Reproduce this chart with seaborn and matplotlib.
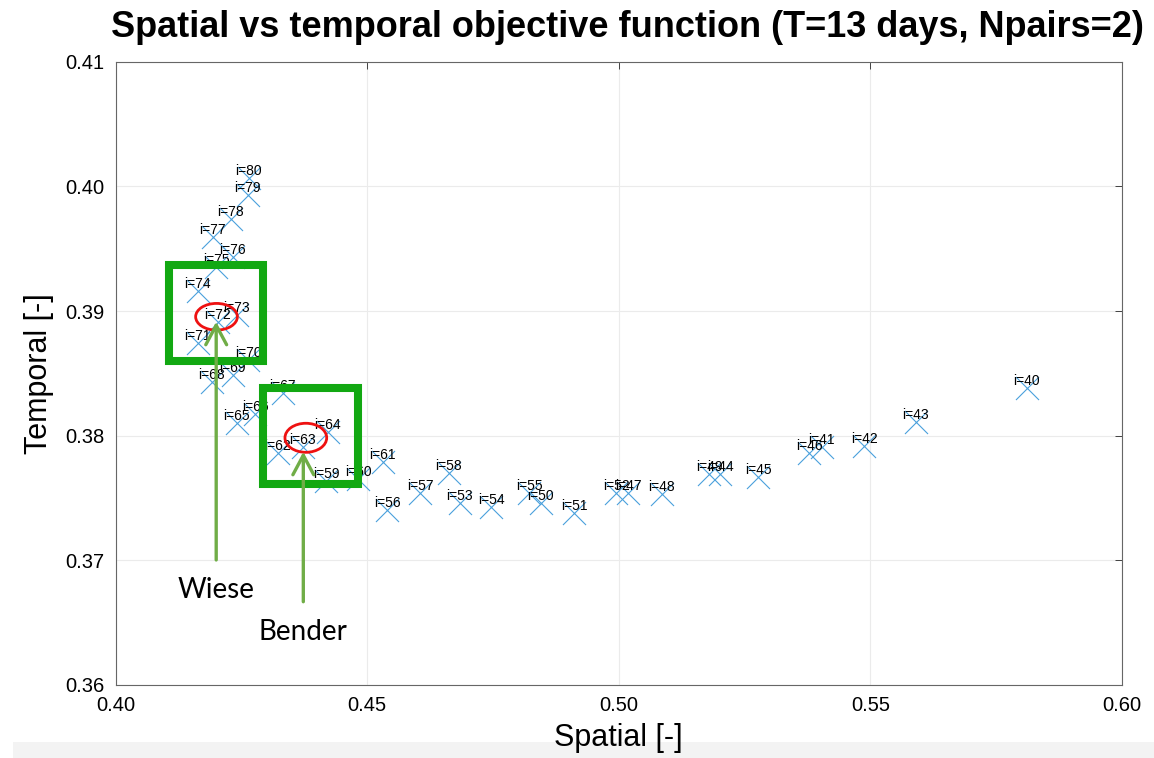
"""Spatial vs temporal objective function scatter, with hand-drawn style call-outs."""

import numpy as np
import pandas as pd
import matplotlib
matplotlib.use('Agg')
import matplotlib.pyplot as plt
from matplotlib.patches import Rectangle, Ellipse
import seaborn as sns

# iteration number of each point
iterations = [40, 41, 42, 43, 44, 45, 46, 47, 48, 49,
              50, 51, 52, 53, 54, 55, 56, 57, 58, 59,
              60, 61, 62, 63, 64, 65, 66, 67, 68, 69,
              70, 71, 72, 73, 74, 75, 76, 77, 78, 79, 80]

# spatial objective (x)
spatial = [0.5811, 0.5403, 0.5488, 0.5590, 0.5202, 0.5277, 0.5378, 0.5019, 0.5085, 0.5180,
           0.4845, 0.4911, 0.4995, 0.4684, 0.4747, 0.4822, 0.4540, 0.4606, 0.4662, 0.4419,
           0.4482, 0.4531, 0.4322, 0.4372, 0.4422, 0.4241, 0.4278, 0.4332, 0.4191, 0.4233,
           0.4264, 0.4163, 0.4203, 0.4241, 0.4163, 0.4200, 0.4233, 0.4193, 0.4229, 0.4263, 0.4265]

# temporal objective (y)
temporal = [0.3838, 0.3791, 0.3792, 0.3811, 0.3769, 0.3767, 0.3786, 0.3754, 0.3753, 0.3769,
            0.3746, 0.3738, 0.3754, 0.3746, 0.3743, 0.3754, 0.3740, 0.3754, 0.3770, 0.3764,
            0.3765, 0.3779, 0.3786, 0.3791, 0.3803, 0.3810, 0.3817, 0.3834, 0.3843, 0.3849,
            0.3861, 0.3874, 0.3891, 0.3897, 0.3916, 0.3935, 0.3943, 0.3959, 0.3974, 0.3993, 0.4007]

x_ticks = [0.40, 0.45, 0.50, 0.55, 0.60]
y_ticks = [0.36, 0.37, 0.38, 0.39, 0.40, 0.41]

df = pd.DataFrame({'i': iterations, 'spatial': spatial, 'temporal': temporal})

sns.set_theme(style='whitegrid')
plt.rcParams['font.family'] = ['Liberation Sans', 'DejaVu Sans']
plt.rcParams['text.color'] = 'black'
plt.rcParams['axes.labelcolor'] = 'black'
plt.rcParams['xtick.color'] = 'black'
plt.rcParams['ytick.color'] = 'black'

W, H = 1154, 758
fig = plt.figure(figsize=(W / 100, H / 100), dpi=100)
fig.patch.set_facecolor('white')
ax = fig.add_axes([115.5 / W, 1 - 685 / H, (1122 - 115.5) / W, (685 - 61.7) / H])
ax.set_facecolor('white')

# light grey band at the bottom of the screenshot
fig.patches.append(Rectangle((13 / W, 0), 1, 16 / H, transform=fig.transFigure,
                             facecolor='#f3f3f3', edgecolor='none', zorder=-1))

sns.scatterplot(data=df, x='spatial', y='temporal', marker='x', s=275,
                color='#4aa0dc', linewidth=0.8, ax=ax, zorder=3, legend=False)

for _, row in df.iterrows():
    ax.annotate(f"i={int(row['i'])}", (row['spatial'], row['temporal']),
                ha='center', va='bottom', fontsize=10, color='black', zorder=4)

ax.set_xlim(0.40, 0.60)
ax.set_ylim(0.36, 0.41)
ax.set_xticks(x_ticks)
ax.set_yticks(y_ticks)
ax.set_xticklabels([f'{v:.2f}' for v in x_ticks], fontsize=14.5)
ax.set_yticklabels([f'{v:.2f}' for v in y_ticks], fontsize=14.5)
ax.tick_params(direction='in', length=5, width=0.6, color='#262626',
               labelcolor='black', top=True, right=True, pad=8)
ax.grid(True, color='#ebebeb', linewidth=0.8)
for sp in ax.spines.values():
    sp.set_color('#666666')
    sp.set_linewidth(0.8)

ax.set_xlabel('Spatial [-]', fontsize=22, labelpad=6)
ax.set_ylabel('Temporal [-]', fontsize=22, labelpad=8)

fig.text(627 / W, 1 - 37 / H, 'Spatial vs temporal objective function (T=13 days, Npairs=2)',
         ha='center', va='baseline', fontsize=26, fontweight='bold', color='black')

# call-outs drawn over the chart
box_green = '#12a812'
arrow_green = '#70ad47'
ax.add_patch(Rectangle((0.4107, 0.3860), 0.0187, 0.0077, fill=False,
                       edgecolor=box_green, linewidth=5.8, zorder=6))
ax.add_patch(Rectangle((0.4294, 0.3761), 0.0187, 0.0077, fill=False,
                       edgecolor=box_green, linewidth=5.8, zorder=6))
ax.add_patch(Ellipse((0.42007, 0.38954), 0.00829, 0.00214, fill=False,
                     edgecolor='#ee1111', linewidth=2, zorder=7))
ax.add_patch(Ellipse((0.43782, 0.37983), 0.00829, 0.00233, fill=False,
                     edgecolor='#ee1111', linewidth=2, zorder=7))

arrow_kw = dict(arrowstyle='->,head_length=1.4,head_width=0.75', mutation_scale=10,
                lw=2.4, color=arrow_green, shrinkA=0, shrinkB=0)
ax.annotate('', xy=(0.42001, 0.38914), xytext=(0.42001, 0.37003),
            arrowprops=arrow_kw, zorder=8)
ax.annotate('', xy=(0.43732, 0.37871), xytext=(0.43732, 0.36668),
            arrowprops=arrow_kw, zorder=8)

ax.text(0.4200, 0.36762, 'Wiese', ha='center', va='center', fontsize=20,
        family=['Lato', 'DejaVu Sans'], color='black', zorder=8)
ax.text(0.43716, 0.36425, 'Bender', ha='center', va='center', fontsize=20,
        family=['Lato', 'DejaVu Sans'], color='black', zorder=8)

fig.savefig('out.png', dpi=100)
